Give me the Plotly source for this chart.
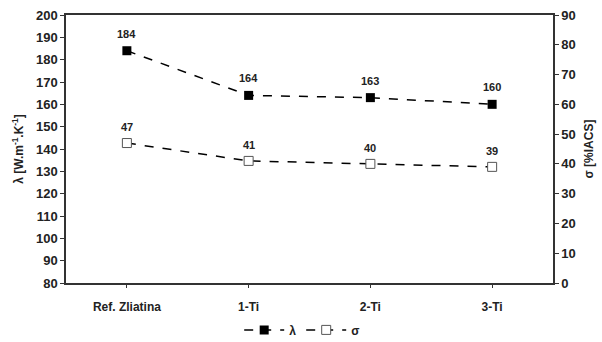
import plotly.graph_objects as go

categories = ["Ref. Zliatina", "1-Ti", "2-Ti", "3-Ti"]
lam = [184, 164, 163, 160]
sigma = [47, 41, 40, 39]

FONT = "Liberation Sans, Arial, sans-serif"

fig = go.Figure()
fig.add_trace(go.Scatter(
    x=categories, y=lam, name="<b>λ</b>", mode="lines+markers",
    line=dict(color="black", width=1.5, dash="dash"),
    marker=dict(symbol="square", size=9, color="black"),
    yaxis="y"))
fig.add_trace(go.Scatter(
    x=categories, y=sigma, name="<b>σ</b>", mode="lines+markers",
    line=dict(color="black", width=1.5, dash="dash"),
    marker=dict(symbol="square", size=9, color="white", line=dict(color="#555555", width=1)),
    yaxis="y2"))

ann = []
for c, v in zip(categories, lam):
    ann.append(dict(x=c, y=v, xref="x", yref="y", text=f"<b>{v}</b>", showarrow=False,
                    yshift=17, font=dict(size=11, color="#222222", family=FONT)))
for c, v in zip(categories, sigma):
    ann.append(dict(x=c, y=v, xref="x", yref="y2", text=f"<b>{v}</b>", showarrow=False,
                    yshift=16, font=dict(size=11, color="#222222", family=FONT)))

fig.update_layout(
    width=602, height=342,
    margin=dict(l=66, r=49, t=15, b=59, autoexpand=False),
    paper_bgcolor="white", plot_bgcolor="white",
    font=dict(family=FONT, size=12, color="#222222"),
    showlegend=True,
    legend=dict(orientation="h", x=0.485, xanchor="center", y=-0.175, yanchor="middle",
                font=dict(size=12, family=FONT), itemwidth=40, tracegroupgap=0),
    annotations=ann,
    xaxis=dict(type="category", range=[-0.5, 3.5], showline=True, linecolor="#333333",
               linewidth=1.5, mirror=True, ticks="outside", ticklen=3, tickcolor="#333333",
               showgrid=False, tickfont=dict(size=12, family=FONT), ticklabelstandoff=9,
               automargin=False,
               tickvals=categories, ticktext=[f"<b>{c}</b>" for c in categories]),
    yaxis=dict(range=[80, 200], dtick=10, showline=True, linecolor="#333333", linewidth=1.5,
               ticks="outside", ticklen=4, tickcolor="#333333", showgrid=False, zeroline=False,
               tickfont=dict(size=13, family=FONT), automargin=False,
               tickvals=list(range(80, 201, 10)), ticktext=[f"<b>{t}</b>" for t in range(80, 201, 10)],
               title=dict(text="<b>λ [W.m<sup>-1</sup>.K<sup>-1</sup>]</b>", font=dict(size=12, family=FONT), standoff=10)),
    yaxis2=dict(range=[0, 90], overlaying="y", side="right", showline=True, linecolor="#333333",
                linewidth=1.5, ticks="outside", ticklen=4, tickcolor="#333333", showgrid=False,
                zeroline=False, tickfont=dict(size=13, family=FONT), automargin=False,
                tickvals=list(range(0, 91, 10)), ticktext=[f"<b>{t}</b>" for t in range(0, 91, 10)],
                title=dict(text="<b>σ [%IACS]</b>", font=dict(size=12, family=FONT), standoff=10)),
)

fig.write_html("out.html")
